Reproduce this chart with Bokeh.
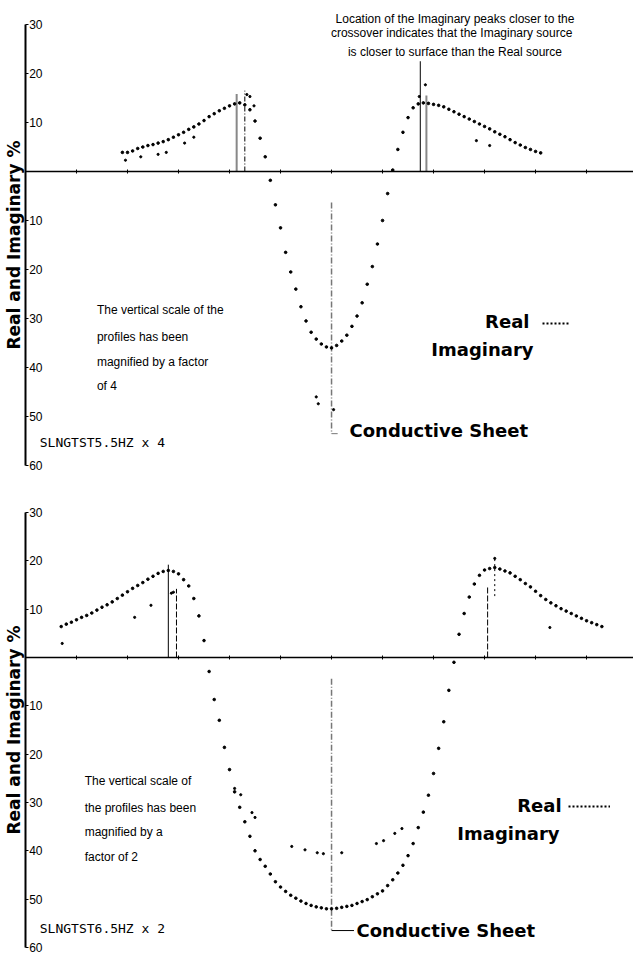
from bokeh.plotting import figure
from bokeh.models import Range1d, FixedTicker, Label, Legend, LegendItem, CustomLabelingPolicy
from bokeh.layouts import column
from bokeh.embed import file_html
from bokeh.resources import INLINE

# ---------------- data (x: station in m, y: Real / Imaginary in %) ----------------
x_ticks = [-300, -250, -200, -150, -100, -50, 0, 50, 100, 150, 200, 250, 300]
y_ticks = [30, 20, 10, -10, -20, -30, -40, -50, -60]
y_tick_labels = {30: "30", 20: "20", 10: "10", -10: "10", -20: "20",
                 -30: "30", -40: "40", -50: "50", -60: "60"}

# Panel 1: SLNGTST5.5HZ x 4
p1_station = [-205, -200, -195, -190, -185, -180, -175, -170, -165, -160, -155, -150,
              -145, -140, -135, -130, -125, -120, -115, -110, -105, -100, -95, -90,
              -85, -80, -75, -70, -65, -60, -55, -50, -45, -40, -35, -30, -25, -20,
              -15, -10, -5, 0, 5, 10, 15, 20, 25, 30, 35, 40, 45, 50, 55, 60, 65, 70,
              75, 80, 85, 90, 95, 100, 105, 110, 115, 120, 125, 130, 135, 140, 145,
              150, 155, 160, 165, 170, 175, 180, 185, 190, 195, 200, 205]
p1_real = [3.9, 3.9, 4.2, 4.7, 5.0, 5.3, 5.5, 5.8, 6.1, 6.5, 7.0, 7.5,
           8.0, 8.6, 9.1, 9.7, 10.4, 11.2, 11.8, 12.4, 12.9, 13.4, 13.8, 14.0,
           13.6, 12.6, 10.3, 6.8, 3.0, -1.8, -6.8, -11.5, -16.5, -20.5, -24.0, -27.6,
           -30.5, -32.8, -34.2, -35.2, -35.8, -36.0, -35.5, -34.6, -33.4, -31.6, -29.5,
           -26.8, -23.0, -19.4, -14.8, -10.0, -4.5, 0.3, 4.5, 8.0, 11.0, 13.0, 13.8,
           14.0, 13.9, 13.7, 13.5, 13.2, 12.7, 12.2, 11.7, 11.2, 10.7, 10.2, 9.7,
           9.2, 8.7, 8.1, 7.6, 7.1, 6.5, 5.9, 5.4, 4.9, 4.5, 4.1, 3.8]
p1_imag_station = [-202, -187, -170, -162, -144, -135, -83, -80, -76, -15, -13, 2,
                   86, 92, 142, 155]
p1_imag = [2.3, 3.0, 3.5, 3.9, 5.8, 7.0, 15.7, 15.3, 13.4, -46.0, -47.4, -48.6,
           15.3, 17.7, 6.3, 5.3]
p1_real_peak_x = [-93, 93]
p1_real_peak_top = [15.8, 15.5]
p1_imag_peak_x = [-85, 87]
p1_imag_peak_top = [16.5, 22.5]
p1_sheet_x = [0]
p1_sheet_top = [-6.3]
p1_sheet_bottom = [-53.5]

# Panel 2: SLNGTST6.5HZ x 2
p2_station = [-265, -260, -255, -250, -245, -240, -235, -230, -225, -220, -215, -210,
              -205, -200, -195, -190, -185, -180, -175, -170, -165, -160, -155, -150,
              -145, -140, -135, -130, -125, -120, -115, -110, -105, -100, -95, -90,
              -85, -80, -75, -70, -65, -60, -55, -50, -45, -40, -35, -30, -25, -20,
              -15, -10, -5, 0, 5, 10, 15, 20, 25, 30, 35, 40, 45, 50, 55, 60, 65, 70,
              75, 80, 85, 90, 95, 100, 105, 110, 115, 120, 125, 130, 135, 140, 145,
              150, 155, 160, 165, 170, 175, 180, 185, 190, 195, 200, 205, 210, 215,
              220, 225, 230, 235, 240, 245, 250, 255, 260, 265]
p2_real = [6.4, 6.9, 7.3, 7.8, 8.3, 8.7, 9.2, 9.8, 10.4, 10.9, 11.5, 12.2,
           12.9, 13.6, 14.3, 14.9, 15.5, 16.2, 16.8, 17.4, 17.8, 18.0, 17.8, 17.3,
           16.1, 14.8, 12.2, 8.6, 3.5, -2.9, -8.7, -13.0, -18.6, -23.2, -27.8, -31.0,
           -34.0, -37.0, -40.0, -41.8, -43.2, -44.8, -46.4, -47.5, -48.4, -49.2, -49.8,
           -50.4, -50.9, -51.3, -51.6, -51.8, -52.0, -52.0, -51.9, -51.7, -51.5, -51.3,
           -50.9, -50.5, -50.1, -49.5, -48.9, -48.3, -47.2, -46.0, -44.6, -43.0, -41.0,
           -38.5, -35.2, -32.0, -28.5, -24.0, -18.8, -13.3, -6.8, -1.0, 4.8, 9.1, 12.5,
           15.2, 17.0, 18.1, 18.4, 18.6, 18.3, 17.9, 17.5, 16.8, 16.1, 15.3, 14.6,
           13.7, 12.8, 12.0, 11.3, 10.7, 10.1, 9.6, 9.1, 8.6, 8.1, 7.6, 7.2, 6.8, 6.4]
p2_imag_station = [-264, -193, -177, -157, -155, -95, -89, -78, -75, -39, -26, -14,
                   -8, 10, 44, 51, 62, 69, 160, 214]
p2_imag = [2.9, 8.3, 10.8, 13.3, 13.5, -27.1, -28.4, -32.1, -33.1, -39.1, -39.8,
           -40.4, -40.6, -40.4, -38.5, -37.9, -36.4, -35.4, 20.5, 6.2]
p2_real_peak_x = [-160, 160]
p2_real_peak_bottom = [0, 12.7]
p2_real_peak_top = [19.2, 20.4]
p2_imag_peak_x = [-152, 153]
p2_imag_peak_top = [14.2, 14.8]
p2_sheet_x = [0]
p2_sheet_top = [-4.4]
p2_sheet_bottom = [-56.5]

TXT = "Liberation Sans"
BOLD = "DejaVu Sans"

HIDE_LABELS = CustomLabelingPolicy(code="""
try {
  const keep = Array.from(indices);
  for (const i of keep) { indices.set(i, false); }
} catch (e) {}
return indices;
""")


def base_figure(height, y_start, y_end):
    p = figure(width=633, height=height, x_range=Range1d(-324.5, 296),
               y_range=Range1d(y_start, y_end), output_backend="svg",
               toolbar_location=None, min_border_left=0, min_border_right=0,
               min_border_top=0, min_border_bottom=0)
    p.grid.visible = False
    p.outline_line_color = None
    p.background_fill_color = "white"
    p.border_fill_color = "white"
    # x axis drawn through zero, ticks only
    xa = p.xaxis[0]
    xa.fixed_location = 0
    xa.bounds = (-300, 296)
    xa.ticker = FixedTicker(ticks=x_ticks)
    xa.major_label_policy = HIDE_LABELS
    xa.major_label_text_font_size = "10px"
    xa.major_label_standoff = 0
    xa.major_tick_in = 2
    xa.major_tick_out = 2
    xa.minor_tick_line_color = None
    xa.axis_line_width = 1.5
    xa.axis_line_color = "black"
    xa.major_tick_line_color = "black"
    # y axis with labels drawn to the right of the line
    ya = p.yaxis[0]
    ya.fixed_location = -300
    ya.bounds = (-60, 30)
    ya.ticker = FixedTicker(ticks=y_ticks)
    ya.major_label_overrides = y_tick_labels
    ya.major_tick_in = 3
    ya.major_tick_out = 0
    ya.minor_tick_line_color = None
    ya.axis_line_width = 2
    ya.axis_line_color = "black"
    ya.major_tick_line_color = "black"
    ya.major_label_standoff = -17
    ya.major_label_text_font = TXT
    ya.major_label_text_font_size = "12px"
    ya.major_label_text_color = "black"
    ya.axis_label = "Real and Imaginary %"
    ya.axis_label_text_font = BOLD
    ya.axis_label_text_font_style = "bold"
    ya.axis_label_text_font_size = "17px"
    ya.axis_label_text_color = "black"
    ya.axis_label_standoff = 2
    return p


def add_text(p, x, y, text, align="left", font=TXT, size="12px", style="normal"):
    p.add_layout(Label(x=x, y=y, text=text, text_align=align, text_baseline="middle",
                       text_font=font, text_font_size=size, text_font_style=style,
                       text_color="black"))


def add_swatch(p, loc, width):
    r = p.line(x=[float("nan")], y=[float("nan")], line_color="black", line_width=2,
               line_dash="2 2")
    leg = Legend(items=[LegendItem(label=" ", renderers=[r])], location=loc,
                 padding=0, margin=0, spacing=0, label_standoff=0, glyph_width=width,
                 glyph_height=8, label_height=8, label_width=0,
                 label_text_font_size="8px",
                 border_line_alpha=0, background_fill_alpha=0)
    p.add_layout(leg)


# ---------------- panel 1 ----------------
p1 = base_figure(490, -65.1, 34.9)
p1.segment(x0=p1_sheet_x, y0=p1_sheet_top, x1=p1_sheet_x, y1=p1_sheet_bottom,
           line_color="#777777", line_width=1.5, line_dash="6 2 1 2")
p1.segment(x0=p1_sheet_x, y0=p1_sheet_bottom, x1=[6], y1=p1_sheet_bottom,
           line_color="#777777", line_width=1)
p1.segment(x0=p1_real_peak_x, y0=[0, 0], x1=p1_real_peak_x, y1=p1_real_peak_top,
           line_color="#888888", line_width=2)
p1.segment(x0=p1_imag_peak_x[:1], y0=[0], x1=p1_imag_peak_x[:1], y1=p1_imag_peak_top[:1],
           line_color="black", line_width=1, line_dash="5 2 1 2")
p1.segment(x0=p1_imag_peak_x[1:], y0=[0], x1=p1_imag_peak_x[1:], y1=p1_imag_peak_top[1:],
           line_color="black", line_width=1)
p1.scatter(p1_station, p1_real, size=2.6, color="black", marker="circle")
p1.scatter(p1_imag_station, p1_imag, size=2.2, color="black", marker="circle")

add_text(p1, 121, 31.2, "Location of the Imaginary peaks closer to the", align="center")
add_text(p1, 121, 28.2, "crossover indicates  that  the Imaginary source", align="center")
add_text(p1, 121, 24.3, "is closer to surface than the Real source", align="center")
add_text(p1, -230, -28.2, "The vertical scale of the")
add_text(p1, -230, -33.7, "profiles has been")
add_text(p1, -230, -38.8, "magnified by a factor")
add_text(p1, -230, -43.7, "of  4")
add_text(p1, -286, -55.3, "SLNGTST5.5HZ x 4", font="DejaVu Sans Mono", size="13px")
add_text(p1, 194, -30.6, "Real", align="right", font=BOLD, size="18px", style="bold")
add_text(p1, 198, -36.3, "Imaginary", align="right", font=BOLD, size="18px", style="bold")
add_text(p1, 17.6, -52.9, "Conductive Sheet", font=BOLD, size="18px", style="bold")
add_swatch(p1, (542, 163), 28)

# ---------------- panel 2 ----------------
p2 = base_figure(469, -62.49, 34.55)
p2.segment(x0=p2_sheet_x, y0=p2_sheet_top, x1=p2_sheet_x, y1=p2_sheet_bottom,
           line_color="#777777", line_width=1.5, line_dash="6 2 1 2")
p2.segment(x0=p2_sheet_x, y0=p2_sheet_bottom, x1=[22], y1=p2_sheet_bottom,
           line_color="black", line_width=1)
p2.segment(x0=p2_real_peak_x[:1], y0=p2_real_peak_bottom[:1], x1=p2_real_peak_x[:1],
           y1=p2_real_peak_top[:1], line_color="black", line_width=1)
p2.segment(x0=p2_real_peak_x[1:], y0=p2_real_peak_bottom[1:], x1=p2_real_peak_x[1:],
           y1=p2_real_peak_top[1:], line_color="black", line_width=1, line_dash="2 3")
p2.segment(x0=p2_imag_peak_x, y0=[0, 0], x1=p2_imag_peak_x, y1=p2_imag_peak_top,
           line_color="black", line_width=1, line_dash="6 2")
p2.scatter(p2_station, p2_real, size=2.6, color="black", marker="circle")
p2.scatter(p2_imag_station, p2_imag, size=2.2, color="black", marker="circle")

add_text(p2, -242, -25.5, "The vertical scale of")
add_text(p2, -242, -31.1, "the profiles has been")
add_text(p2, -242, -36.2, "magnified by a")
add_text(p2, -242, -41.2, "factor of  2")
add_text(p2, -286, -56.1, "SLNGTST6.5HZ x 2", font="DejaVu Sans Mono", size="13px")
add_text(p2, 225.5, -30.6, "Real", align="right", font=BOLD, size="18px", style="bold")
add_text(p2, 223.5, -36.4, "Imaginary", align="right", font=BOLD, size="18px", style="bold")
add_text(p2, 24.5, -56.5, "Conductive Sheet", font=BOLD, size="18px", style="bold")
add_swatch(p2, (568, 149), 42)

layout = column(p1, p2, spacing=0)
open("out.html", "w").write(file_html(layout, INLINE))
